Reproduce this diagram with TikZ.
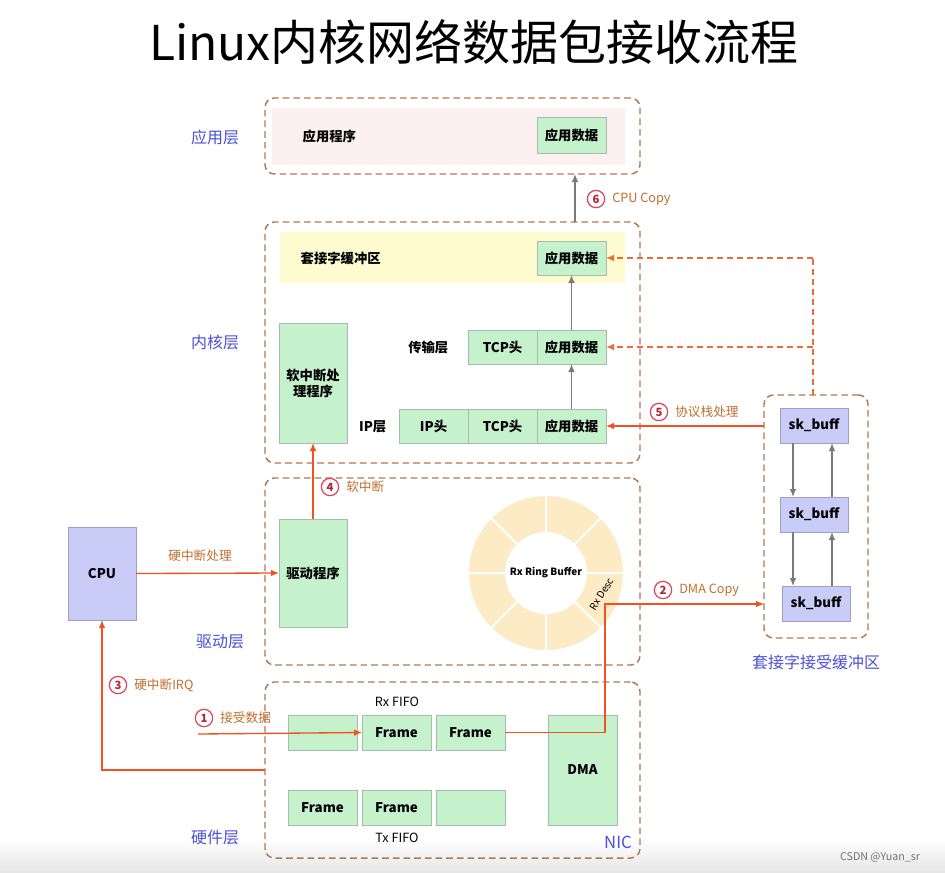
\documentclass[tikz,border=0pt]{standalone}
\usepackage{fontspec}
\setmainfont{Noto Sans CJK SC}
\usetikzlibrary{arrows.meta,calc}
\definecolor{dashc}{HTML}{B07A50}
\definecolor{arr}{HTML}{F4511E}
\definecolor{darr}{HTML}{EE6A3A}
\definecolor{annoc}{HTML}{C0702F}
\definecolor{numc}{HTML}{E0405A}
\definecolor{numtext}{HTML}{B02838}
\definecolor{bluel}{HTML}{4B50D6}
\definecolor{gfill}{HTML}{C6F1CD}
\definecolor{gdraw}{HTML}{A3BFA6}
\definecolor{lfill}{HTML}{C8CCF7}
\definecolor{ldraw}{HTML}{9C9FC8}
\definecolor{ringc}{HTML}{FDEBC6}
\definecolor{pinkc}{HTML}{FCF1F0}
\definecolor{yelc}{HTML}{FDFBCF}
\definecolor{grayarr}{HTML}{7A7A7A}
\newcommand\boxfont{\bfseries\fontsize{10}{12}\selectfont}
\tikzset{
 pbox/.style args={#1,#2,#3,#4}{rectangle, inner sep=0pt, outer sep=0pt,
   minimum width={(#3-#1)*0.75pt}, minimum height={(#4-#2)*0.75pt},
   at={({(#1+#3)/2},{(#2+#4)/2})}},
 layer/.style={draw=dashc, line width=1.1pt, dash pattern=on 5pt off 3pt, rounded corners=7pt},
 area/.style={draw=none},
 gbox/.style={fill=gfill, draw=gdraw, line width=0.7pt, font=\boxfont},
 lbox/.style={fill=lfill, draw=ldraw, line width=0.7pt, font=\boxfont},
 plain/.style={font=\boxfont},
 layerlabel/.style={text=bluel, font=\fontsize{12}{14}\selectfont},
 anno/.style={text=annoc, font=\fontsize{9.5}{11}\selectfont, anchor=west, inner sep=0pt},
 num/.style={circle, draw=numc, line width=0.9pt, minimum size=13pt, inner sep=0pt, text=numtext, font=\bfseries\fontsize{8.5}{9}\selectfont},
 oarrow/.style={draw=arr, line width=1pt, -{Latex[length=6pt,width=5pt]}},
 darrow/.style={draw=darr, line width=1pt, dash pattern=on 4.5pt off 3pt, -{Latex[length=6pt,width=5pt]}},
 garrow/.style={draw=grayarr, line width=1pt, -{Latex[length=6pt,width=5pt]}},
}
\begin{document}
\begin{tikzpicture}[x=0.75pt,y=-0.75pt]
\useasboundingbox (0,0) rectangle (945,872);
\fill[white] (0,0) rectangle (945,872);
\shade[top color=white,bottom color=black!10] (0,838) rectangle (945,872);
% title
\node[font=\fontsize{36}{40}\selectfont] (title) at (474,42) {Linux内核网络数据包接收流程};
% layers
\node[layer, pbox={265,98,640,174}] (Lapp) {};
\node[layer, pbox={265,222,640,463}] (Lker) {};
\node[layer, pbox={265,478,640,665}] (Ldrv) {};
\node[layer, pbox={265,682,640,858}] (Lhw) {};
\node[layer, pbox={764,395,868,638}] (Lsk) {};
\node[layerlabel] (lab1) at (215,137) {应用层};
\node[layerlabel] (lab2) at (215,342) {内核层};
\node[layerlabel] (lab3) at (220,642) {驱动层};
\node[layerlabel] (lab4) at (215,838) {硬件层};
\node[layerlabel] (lab5) at (816,662) {套接字接受缓冲区};
\node[layerlabel, font=\fontsize{12.5}{14}\selectfont] (nic) at (618,842) {NIC};
% application layer
\node[area, fill=pinkc, pbox={272,108,625,165}] (apprect) {};
\node[plain, anchor=west] (appprog) at (298,136) {应用程序};
\node[gbox, pbox={537,117,606,153}] (appdata) {应用数据};
% kernel layer
\node[area, fill=yelc, pbox={280,232,625,283}] (sockrect) {};
\node[plain, anchor=west] (socklab) at (296,258) {套接字缓冲区};
\node[gbox, pbox={537,241,606,275}] (sockdata) {应用数据};
\node[gbox, pbox={279,323,347,443}, align=center] (softirq) {软中断处\\理程序};
\node[plain, anchor=east] (translab) at (453,347) {传输层};
\node[gbox, pbox={468,330,537,364}] (ttcp) {TCP头};
\node[gbox, pbox={537,330,606,364}] (tdata) {应用数据};
\node[plain, anchor=east] (iplab) at (391,427) {IP层};
\node[gbox, pbox={399,409,468,443}] (iph) {IP头};
\node[gbox, pbox={468,409,537,443}] (itcp) {TCP头};
\node[gbox, pbox={537,409,606,443}] (idata) {应用数据};
% driver layer
\node[gbox, pbox={279,519,347,627}] (driver) {驱动程序};
\fill[ringc, even odd rule] (546,573) circle[radius=77] (546,573) circle[radius=41];
\foreach \a in {0,45,...,315}
  \draw[white, line width=1.4pt] ($(546,573)+(\a:40)$) -- ($(546,573)+(\a:78)$);
\node[font=\bfseries\fontsize{7.5}{9}\selectfont] (ring) at (546,573) {Rx Ring Buffer};
\node[font=\fontsize{7.5}{9}\selectfont, rotate=58, inner sep=0pt] (rxdesc) at (602,594) {Rx Desc};
% hardware layer
\node[plain, font=\fontsize{9.5}{11}\selectfont] (rxfifo) at (397,702) {Rx FIFO};
\node[plain, font=\fontsize{9.5}{11}\selectfont] (txfifo) at (397,838) {Tx FIFO};
\node[gbox, pbox={288,715,357,750}] (rx1) {};
\node[gbox, pbox={362,715,431,750}] (rx2) {Frame};
\node[gbox, pbox={436,715,505,750}] (rx3) {Frame};
\node[gbox, pbox={288,790,357,825}] (tx1) {Frame};
\node[gbox, pbox={362,790,431,825}] (tx2) {Frame};
\node[gbox, pbox={436,790,505,825}] (tx3) {};
\node[gbox, pbox={548,715,617,825}] (dma) {DMA};
% CPU
\node[lbox, pbox={68,527,136,620}] (cpu) {CPU};
% socket receive buffers
\node[lbox, pbox={780,408,848,443}] (sk1) {sk\_buff};
\node[lbox, pbox={780,497,848,532}] (sk2) {sk\_buff};
\node[lbox, pbox={782,586,850,621}] (sk3) {sk\_buff};
\coordinate (dnx) at (793,0);
\coordinate (upx) at (832,0);
\draw[garrow] (sk1.south -| dnx) -- (sk2.north -| dnx);
\draw[garrow] (sk2.south -| dnx) -- (sk3.north -| dnx);
\draw[garrow] (sk2.north -| upx) -- (sk1.south -| upx);
\draw[garrow] (sk3.north -| upx) -- (sk2.south -| upx);
% gray arrows in kernel
\draw[garrow] (idata.north) -- (tdata.south);
\draw[garrow] (tdata.north) -- (sockdata.south);
\coordinate (cpx) at (575,0);
\draw[garrow] (Lker.north -| cpx) -- (Lapp.south -| cpx);
% orange flows
\coordinate (rxin) at (198,734);
\draw[oarrow] (rxin) -- (rx2.west);
\coordinate (desc) at (605,604);
\draw[oarrow] (rx3.east) -| (desc) -- (desc -| Lsk.west);
\draw[oarrow] (Lhw.west) -| (cpu.south);
\draw[oarrow] (cpu.east) -- (driver.west);
\draw[oarrow] (driver.north) -- (softirq.south);
\draw[oarrow] (Lsk.west |- idata.east) -- (idata.east);
\coordinate (dvx) at (813,0);
\coordinate (dtop) at (813,258);
\draw[darrow, -] (Lsk.north -| dvx) -- (dtop);
\draw[darrow] (dtop) -- (sockdata.east);
\draw[darrow] (dvx |- tdata.east) -- (tdata.east);
% annotations
\node[num] (n1) at (204,718) {1};
\node[anno] (t1) at (220,718) {接受数据};
\node[num] (n2) at (663,590) {2};
\node[anno] (t2) at (679,590) {DMA Copy};
\node[num] (n3) at (118,685) {3};
\node[anno] (t3) at (134,685) {硬中断IRQ};
\node[num] (n4) at (330,487) {4};
\node[anno] (t4) at (346,487) {软中断};
\node[num] (n5) at (659,412) {5};
\node[anno] (t5) at (675,412) {协议栈处理};
\node[num] (n6) at (596,199) {6};
\node[anno] (t6) at (612,199) {CPU Copy};
\node[anno, anchor=center] (thp) at (200,556) {硬中断处理};
% watermark
\node[text=black!55, font=\fontsize{8}{9}\selectfont] (wm) at (880,857) {CSDN @Yuan\_sr};
\end{tikzpicture}
\end{document}
